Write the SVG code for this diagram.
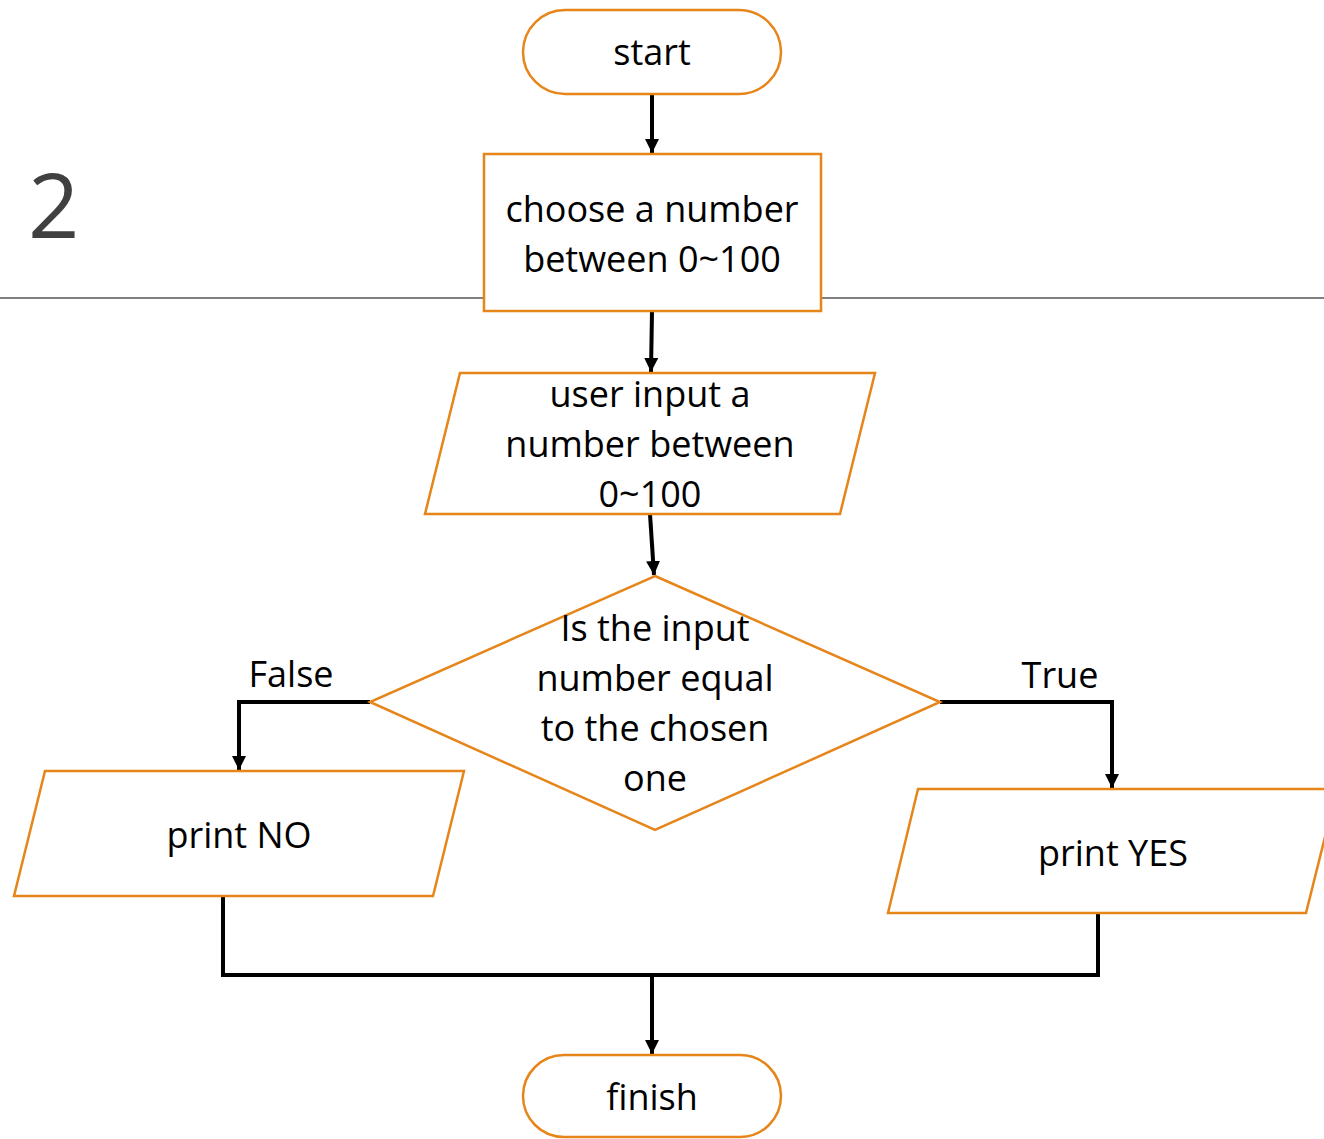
<svg xmlns="http://www.w3.org/2000/svg" width="1324" height="1139" viewBox="0 0 1324 1139">
<style>
.shape{fill:#fff;stroke:#E6851A;stroke-width:2.5}
.t{font-family:"Open Sans","Noto Sans",sans-serif;font-size:36px;fill:#000;text-anchor:middle}
.c{fill:none;stroke:#000;stroke-width:4}
</style>
<defs>
<marker id="ah" markerUnits="userSpaceOnUse" markerWidth="14" markerHeight="16" refX="14" refY="7" orient="auto">
<path d="M0,0 L14,7 L0,14 Z" fill="#000"/>
</marker>
</defs>
<rect width="1324" height="1139" fill="#fff"/>
<g id="title">
<line x1="0" y1="298" x2="1324" y2="298" stroke="#808080" stroke-width="2"/>
<text x="28" y="238" font-family="Open Sans, Noto Sans, sans-serif" font-size="90" fill="#404040">2</text>
</g>
<g id="connectors">
<line class="c" x1="652" y1="94" x2="652" y2="153" marker-end="url(#ah)"/>
<line class="c" x1="652" y1="311" x2="651" y2="372" marker-end="url(#ah)"/>
<line class="c" x1="650" y1="514" x2="654" y2="575" marker-end="url(#ah)"/>
<polyline class="c" points="370,702 239,702 239,770" marker-end="url(#ah)"/>
<polyline class="c" points="940,702 1112,702 1112,788" marker-end="url(#ah)"/>
<polyline class="c" points="223,896 223,975 1098,975 1098,913"/>
<line class="c" x1="652" y1="975" x2="652" y2="1054" marker-end="url(#ah)"/>
<text class="t" x="291" y="687">False</text>
<text class="t" x="1060" y="688">True</text>
</g>
<g id="start">
<rect class="shape" x="523" y="10" width="258" height="84" rx="42"/>
<text class="t" x="652" y="65">start</text>
</g>
<g id="choose">
<rect class="shape" x="484" y="154" width="337" height="157"/>
<text class="t" x="652" y="222">choose a number</text>
<text class="t" x="652" y="272">between 0~100</text>
</g>
<g id="input">
<polygon class="shape" points="460,373 875,373 840,514 425,514"/>
<text class="t" x="650" y="407">user input a</text>
<text class="t" x="650" y="457">number between</text>
<text class="t" x="650" y="507">0~100</text>
</g>
<g id="decision">
<polygon class="shape" points="655,576 940,702 655,830 370,702"/>
<text class="t" x="655" y="641">Is the input</text>
<text class="t" x="655" y="691">number equal</text>
<text class="t" x="655" y="741">to the chosen</text>
<text class="t" x="655" y="791">one</text>
</g>
<g id="printNo">
<polygon class="shape" points="45,771 464,771 433,896 14,896"/>
<text class="t" x="239" y="848">print NO</text>
</g>
<g id="printYes">
<polygon class="shape" points="918,789 1337,789 1306,913 888,913"/>
<text class="t" x="1113" y="866">print YES</text>
</g>
<g id="finish">
<rect class="shape" x="523" y="1055" width="258" height="82" rx="41"/>
<text class="t" x="652" y="1110">finish</text>
</g>
</svg>
